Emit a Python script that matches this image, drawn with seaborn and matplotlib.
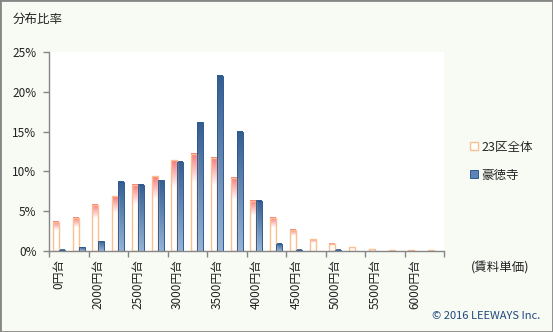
import numpy as np
import pandas as pd
import seaborn as sns
import matplotlib
matplotlib.use("Agg")
import matplotlib.pyplot as plt
from matplotlib.patches import Patch, Rectangle
from matplotlib.colors import to_rgba

# Rent-per-unit price bands (250-yen steps); every other band is labelled
categories = ["0円台", "1750円台", "2000円台", "2250円台", "2500円台", "2750円台",
              "3000円台", "3250円台", "3500円台", "3750円台", "4000円台", "4250円台",
              "4500円台", "4750円台", "5000円台", "5250円台", "5500円台", "5750円台",
              "6000円台", "6250円台"]
series_names = ["23区全体", "豪徳寺"]
# Share of listings per band (%)
ward23 = [3.7, 4.2, 5.8, 6.9, 8.3, 9.4, 11.4, 12.2, 11.7, 9.2,
          6.3, 4.15, 2.65, 1.5, 0.9, 0.5, 0.25, 0.12, 0.12, 0.12]
gotokuji = [0.13, 0.5, 1.25, 8.7, 8.3, 8.9, 11.2, 16.2, 22.0, 15.0,
            6.3, 0.9, 0.13, 0.0, 0.13, 0.0, 0.0, 0.0, 0.0, 0.0]
y_ticks = [0, 5, 10, 15, 20, 25]
y_tick_labels = ["0%", "5%", "10%", "15%", "20%", "25%"]

sns.set_theme(style="white")
plt.rcParams["font.family"] = ["Noto Sans CJK JP", "DejaVu Sans"]

BG = "#F8FAF4"
AXIS_GREY = "#868686"
ORANGE_EDGE = "#FAC090"
PINK_TOP = "#F7797C"
BLUE_TOP = "#345D91"
BLUE_BOTTOM = "#95B3D7"
BLUE_EDGE = "#2F5A8E"

df = pd.DataFrame({
    "band": categories * 2,
    "share": ward23 + gotokuji,
    "series": [series_names[0]] * len(categories) + [series_names[1]] * len(categories),
})

fig = plt.figure(figsize=(5.53, 3.32), dpi=100, facecolor=BG)
fig.patches.append(Rectangle((0, 0), 1, 1, transform=fig.transFigure,
                             facecolor=BG, edgecolor=AXIS_GREY, linewidth=2, zorder=-10))
ax = fig.add_axes([49 / 553, 81 / 332, 395 / 553, 199 / 332])
ax.set_facecolor("white")

sns.barplot(data=df, x="band", y="share", hue="series", order=categories,
            hue_order=series_names, width=0.6, palette=["white", BLUE_TOP],
            legend=False, ax=ax, saturation=1)


def fill_gradient(patch, top_color, bottom_color, fade=None):
    x0, y0 = patch.get_x(), patch.get_y()
    w, h = patch.get_width(), patch.get_height()
    if h <= 0:
        return
    n = 100
    frac = np.linspace(0, 1, n)  # 0 = bottom, 1 = top
    top = np.array(to_rgba(top_color))
    bot = np.array(to_rgba(bottom_color))
    if fade is None:
        mix = frac
    else:
        mix = np.clip(1 - (1 - frac) / fade, 0, 1)
    grad = bot[None, :] + (top - bot)[None, :] * mix[:, None]
    ax.imshow(grad[:, None, :], extent=[x0, x0 + w, y0, y0 + h], origin="lower",
              aspect="auto", interpolation="bilinear", zorder=1.5)


for patch in ax.containers[0]:
    fill_gradient(patch, PINK_TOP, "white", fade=0.3)
    patch.set_facecolor("none")
    patch.set_edgecolor(ORANGE_EDGE)
    patch.set_linewidth(1.0)
    patch.set_zorder(2)

for patch in ax.containers[1]:
    fill_gradient(patch, BLUE_TOP, BLUE_BOTTOM)
    patch.set_facecolor("none")
    patch.set_edgecolor(BLUE_EDGE)
    patch.set_linewidth(0.7)
    patch.set_zorder(2)

ax.set_xlim(-0.5, len(categories) - 0.5)
ax.set_ylim(0, 25)
ax.set_xlabel("")
ax.set_ylabel("")

for side in ("top", "right"):
    ax.spines[side].set_visible(False)
for side in ("left", "bottom"):
    ax.spines[side].set_color(AXIS_GREY)
    ax.spines[side].set_linewidth(1.0)

ax.set_yticks(y_ticks)
ax.set_yticklabels(y_tick_labels, fontsize=8.5, color="#222222")
ax.tick_params(axis="y", direction="out", length=4, width=1, color=AXIS_GREY, pad=5, left=True)

label_pos = list(range(0, len(categories), 2))
ax.set_xticks(label_pos)
ax.set_xticklabels([categories[i] for i in label_pos], rotation=90, fontsize=8.5,
                   color="#222222", va="top", ha="center")
ax.set_xticks([i - 0.5 for i in range(0, len(categories) + 1, 2)], minor=True)
ax.tick_params(axis="x", which="major", length=0, pad=6, bottom=True)
ax.tick_params(axis="x", which="minor", direction="out", length=4, width=1,
               color=AXIS_GREY, bottom=True)

fig.text(13 / 553, 1 - 19 / 332, "分布比率", fontsize=9, ha="left", va="center", color="#222222")
fig.text(500 / 553, 1 - 268 / 332, "(賃料単価)", fontsize=9, ha="center", va="center", color="#222222")
fig.text(540 / 553, 1 - 316 / 332, "© 2016 LEEWAYS Inc.", fontsize=8, ha="right",
         va="center", color="#1F497D")

handles = [Patch(facecolor="white", edgecolor=ORANGE_EDGE, linewidth=1.0, label=series_names[0]),
           Patch(facecolor="#5D84B8", edgecolor=BLUE_EDGE, linewidth=0.7, label=series_names[1])]
fig.legend(handles=handles, loc="center left", bbox_to_anchor=(464 / 553, 1 - 161 / 332),
           frameon=False, fontsize=9, handlelength=0.6, handleheight=0.6,
           handletextpad=0.3, labelspacing=1.2, borderpad=0)

fig.savefig("out.png", dpi=100, facecolor=BG)
